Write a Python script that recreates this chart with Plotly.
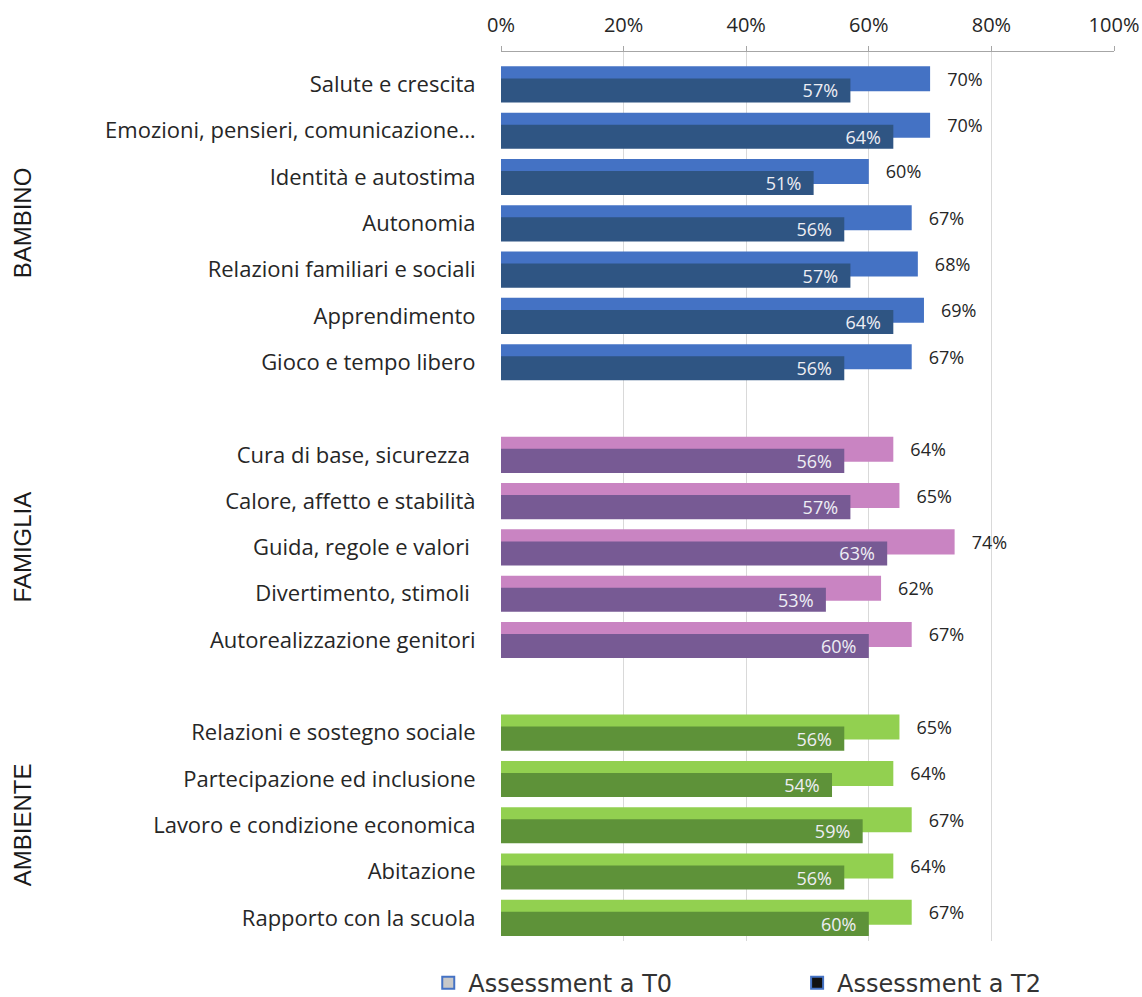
import plotly.graph_objects as go

# Dimensioni valutate, per area
bambino = ["Salute e crescita", "Emozioni, pensieri, comunicazione…", "Identità e autostima",
           "Autonomia", "Relazioni familiari e sociali", "Apprendimento", "Gioco e tempo libero"]
famiglia = ["Cura di base, sicurezza ", "Calore, affetto e stabilità", "Guida, regole e valori ",
            "Divertimento, stimoli ", "Autorealizzazione genitori"]
ambiente = ["Relazioni e sostegno sociale", "Partecipazione ed inclusione",
            "Lavoro e condizione economica", "Abitazione", "Rapporto con la scuola"]

# Percentuali Assessment a T0 e a T2
bambino_t0 = [70, 70, 60, 67, 68, 69, 67]
bambino_t2 = [57, 64, 51, 56, 57, 64, 56]
famiglia_t0 = [64, 65, 74, 62, 67]
famiglia_t2 = [56, 57, 63, 53, 60]
ambiente_t0 = [65, 64, 67, 64, 67]
ambiente_t2 = [56, 54, 59, 56, 60]

x_ticks = [0, 20, 40, 60, 80, 100]

groups = [
    ("BAMBINO", bambino, bambino_t0, bambino_t2, "#4472C4", "#2F5583"),
    ("FAMIGLIA", famiglia, famiglia_t0, famiglia_t2, "#C984C2", "#775A94"),
    ("AMBIENTE", ambiente, ambiente_t0, ambiente_t2, "#92D050", "#5E9239"),
]

FONT = "Open Sans"
NB = "\u00a0"
plot_left, plot_w = 501, 613

fig = go.Figure()
tickvals, ticktext = [], []
pos = 0
for name, cats, t0, t2, c0, c2 in groups:
    ys = list(range(pos, pos + len(cats)))
    tickvals += ys
    ticktext += cats
    fig.add_trace(go.Bar(
        y=ys, x=t0, orientation="h", width=0.54, offset=-0.39,
        marker=dict(color=c0, line=dict(width=0)),
        text=[f"{NB * 3}{v}%" for v in t0], textposition="outside",
        textfont=dict(family=FONT, size=18, color="#262626"),
        cliponaxis=False, showlegend=False, hoverinfo="x+y",
    ))
    fig.add_trace(go.Bar(
        y=ys, x=t2, orientation="h", width=0.52, offset=-0.13,
        marker=dict(color=c2, line=dict(width=0)),
        text=[f"{v}%{NB * 2}" for v in t2], textposition="inside", insidetextanchor="end",
        textfont=dict(family=FONT, size=18, color="#EEEEF4"),
        showlegend=False, hoverinfo="x+y",
    ))
    # etichetta verticale del gruppo, centrata a 22 px dal bordo sinistro
    fig.add_annotation(
        x=(22 - plot_left) / plot_w, xref="paper", xanchor="center",
        y=(ys[0] + ys[-1]) / 2, yref="y", yanchor="middle",
        text=name, textangle=-90, showarrow=False,
        font=dict(family="Liberation Sans", size=24, color="#1a1a1a"),
    )
    pos += len(cats) + 1

# Voci di legenda, una per legenda per poterle distanziare
fig.add_trace(go.Bar(x=[None], y=[None], name="Assessment a T0", legend="legend",
                     marker=dict(color="#C8C8C8", line=dict(color="#4472C4", width=1))))
fig.add_trace(go.Bar(x=[None], y=[None], name="Assessment a T2", legend="legend2",
                     marker=dict(color="#111111", line=dict(color="#4472C4", width=1))))

legend_style = dict(xref="container", yref="container", xanchor="left",
                    y=0.014, yanchor="middle", bgcolor="rgba(0,0,0,0)",
                    font=dict(family="DejaVu Sans", size=24, color="#333333"),
                    itemsizing="constant")

fig.update_layout(
    width=1142, height=997,
    margin=dict(l=plot_left, r=1142 - plot_left - plot_w, t=52, b=56, autoexpand=False),
    barmode="overlay",
    plot_bgcolor="white", paper_bgcolor="white",
    uniformtext=dict(minsize=18, mode="show"),
    legend=dict(x=0.375, **legend_style),
    legend2=dict(x=0.698, **legend_style),
    xaxis=dict(side="top", range=[0, 100], tickvals=x_ticks,
               ticktext=[f"{v}%" for v in x_ticks],
               showgrid=True, gridcolor="#D9D9D9", gridwidth=1,
               showline=True, linecolor="#A6A6A6", linewidth=1,
               ticks="outside", ticklen=5, tickcolor="#A6A6A6",
               ticklabelstandoff=6,
               tickfont=dict(family=FONT, size=20, color="#262626"),
               zeroline=False, fixedrange=True),
    yaxis=dict(range=[18.5, -0.7], tickvals=tickvals, ticktext=ticktext,
               showgrid=False, zeroline=False, showline=False,
               ticks="outside", ticklen=20, tickcolor="rgba(0,0,0,0)",
               tickfont=dict(family=FONT, size=22, color="#262626"),
               fixedrange=True),
)

fig.write_html("out.html")
